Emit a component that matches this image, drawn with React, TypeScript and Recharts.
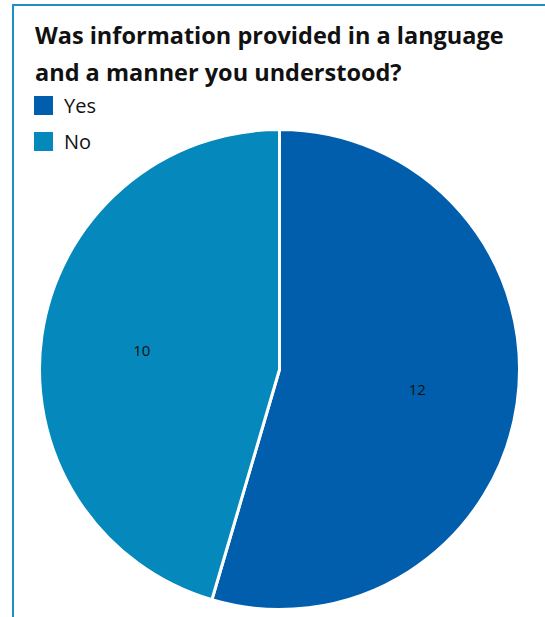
import React from 'react';
import { PieChart, Pie, Cell } from 'recharts';

const CATEGORIES = ['Yes', 'No'];
const COUNTS = [12, 10];
const COLORS = ['#005EAD', '#0589BC'];

const TITLE = ['Was information provided in a language', 'and a manner you understood?'];

const data = CATEGORIES.map((name, i) => ({ name, value: COUNTS[i] }));

const RADIAN = Math.PI / 180;

// value labels drawn inside each slice
function renderLabel(props: any) {
  const { cx, cy, midAngle, outerRadius, value } = props;
  const r = outerRadius * 0.58;
  const x = cx + r * Math.cos(-midAngle * RADIAN);
  const y = cy + r * Math.sin(-midAngle * RADIAN);
  return (
    <text x={x} y={y} textAnchor="middle" dominantBaseline="central" fill="#111" fontSize={15} fontFamily="'Open Sans', sans-serif">
      {value}
    </text>
  );
}

export default function App() {
  return (
    <div style={{ position: 'fixed', left: 0, top: 0, width: 545, height: 617, overflow: 'hidden', background: '#fff' }}>
      <div style={{ position: 'absolute', left: 12, top: 4, width: 600, height: 700, borderTop: '2px solid #1B8FC6', borderLeft: '2px solid #1B8FC6' }} />
      <div style={{ position: 'absolute', left: 0, top: 0 }}>
        <PieChart width={545} height={617}>
          <Pie
            data={data}
            dataKey="value"
            nameKey="name"
            cx={274.5}
            cy={364.5}
            outerRadius={240}
            startAngle={90}
            endAngle={-270}
            stroke="#fff"
            strokeWidth={3}
            labelLine={false}
            label={renderLabel}
            isAnimationActive={false}
          >
            {data.map((entry, index) => (
              <Cell key={`cell-${index}`} fill={COLORS[index % COLORS.length]} />
            ))}
          </Pie>
        </PieChart>
      </div>
      <div style={{ position: 'absolute', left: 35, top: 17, fontFamily: "'Open Sans', sans-serif", fontWeight: 700, fontSize: 23.5, lineHeight: '37px', color: '#111', whiteSpace: 'nowrap' }}>
        {TITLE.map((line, i) => (
          <div key={i}>{line}</div>
        ))}
      </div>
      <div style={{ position: 'absolute', left: 34, top: 87 }}>
        {data.map((entry, index) => (
          <div key={`legend-${index}`} style={{ display: 'flex', alignItems: 'center', height: 36 }}>
            <span style={{ width: 19, height: 19, background: COLORS[index], display: 'inline-block', marginRight: 11 }} />
            <span style={{ fontSize: 20, color: '#111', fontFamily: "'Open Sans', sans-serif" }}>{entry.name}</span>
          </div>
        ))}
      </div>
    </div>
  );
}
